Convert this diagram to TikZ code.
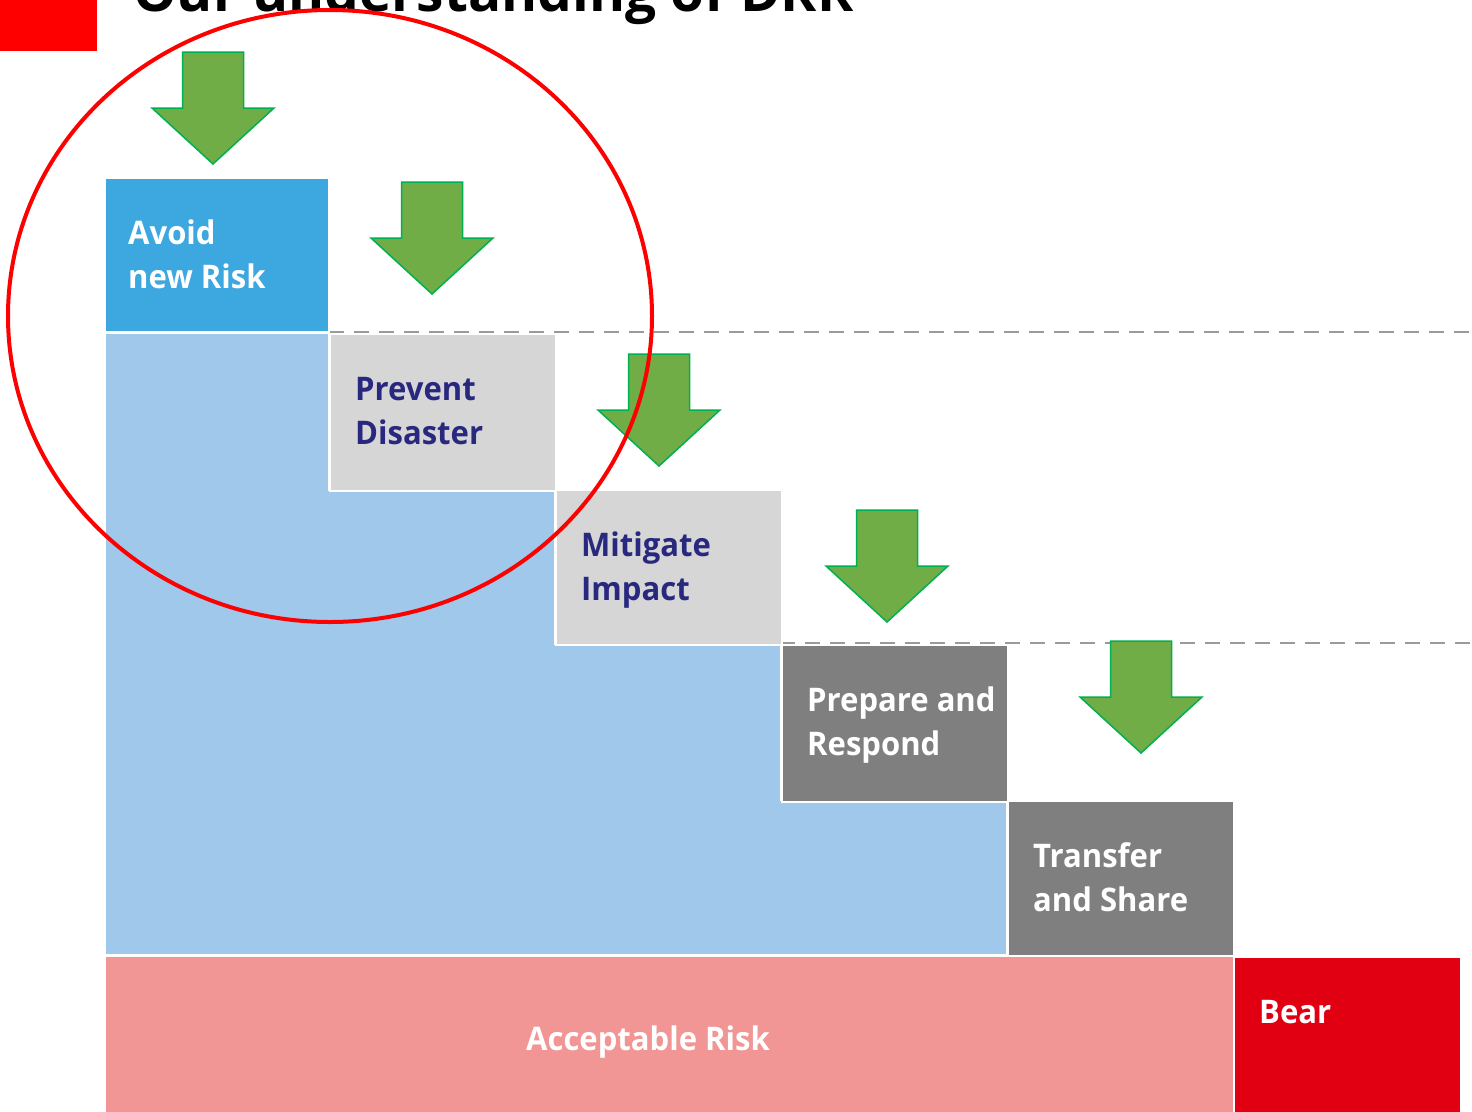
\documentclass[tikz,border=0pt]{standalone}
\usepackage{fontspec}
\setmainfont{Open Sans}
\definecolor{boxblue}{HTML}{3DA7DF}
\definecolor{areablue}{HTML}{9FC8EA}
\definecolor{lgray}{HTML}{D6D6D6}
\definecolor{dgray}{HTML}{7F7F7F}
\definecolor{pinkrisk}{HTML}{F19595}
\definecolor{bearred}{HTML}{E10012}
\definecolor{navytext}{HTML}{28287F}
\definecolor{arrowgreen}{HTML}{70AD47}
\definecolor{arrowedge}{HTML}{00B050}
\definecolor{dashgray}{HTML}{9A9A9A}
\tikzset{
  boxshape/.style={draw=white, line width=1.5pt},
  lbl/.style={anchor=base west, inner sep=0pt, xscale=0.955, transform shape, font=\bfseries\fontsize{32.5}{40}\selectfont},
  lblw/.style={lbl, text=white},
  lbln/.style={lbl, text=navytext},
  dashline/.style={draw=dashgray, line width=1.6pt, dash pattern=on 15pt off 10pt},
  dnarr/.pic={
    \filldraw[fill=arrowgreen, draw=arrowedge, line width=1.5pt]
      (-30.5,0) -- (30.5,0) -- (30.5,56) -- (61,56) -- (0,112) -- (-61,56) -- (-30.5,56) -- cycle;
  }
}
\begin{document}
\begin{tikzpicture}[x=1pt, y=-1pt]
\useasboundingbox (0,0) rectangle (1472,1111);
\clip (0,0) rectangle (1472,1111);
\fill[white] (0,0) rectangle (1472,1111);
% title and red mark
\fill[red] (0,0) rectangle (97,51);
\node[anchor=base west, inner sep=0pt, font=\bfseries\fontsize{55}{60}\selectfont] (title) at (133,11) {Our understanding of DRR};
% dashed level lines
\coordinate (d1a) at (329,332);
\coordinate (d1b) at (1472,332);
\coordinate (d2a) at (780,643);
\coordinate (d2b) at (1472,643);
\draw[dashline] (d1a) -- (d1b);
\draw[dashline] (d2a) -- (d2b);
% light blue area
\filldraw[fill=areablue, boxshape] (105,333) -- (329,333) -- (329,490) -- (555,490) -- (555,644) -- (781,644) -- (781,800) -- (1007,800) -- (1007,955) -- (105,955) -- cycle;
% boxes
\node[boxshape, fill=boxblue, minimum width=224pt, minimum height=154pt, anchor=north west, inner sep=0pt] (avoid) at (104,177) {};
\node[boxshape, fill=lgray, minimum width=226pt, minimum height=157pt, anchor=north west, inner sep=0pt] (prevent) at (329,333) {};
\node[boxshape, fill=lgray, minimum width=226pt, minimum height=155pt, anchor=north west, inner sep=0pt] (mitigate) at (555,489) {};
\node[boxshape, fill=dgray, minimum width=226pt, minimum height=157pt, anchor=north west, inner sep=0pt] (prepare) at (781,644) {};
\node[boxshape, fill=dgray, minimum width=226pt, minimum height=156pt, anchor=north west, inner sep=0pt] (transfer) at (1007,800) {};
\node[boxshape, fill=pinkrisk, minimum width=1129pt, minimum height=160pt, anchor=north west, inner sep=0pt] (accept) at (104,955) {};
\node[boxshape, fill=bearred, minimum width=227pt, minimum height=160pt, anchor=north west, inner sep=0pt] (bear) at (1233,956) {};
% labels
\node[lblw] (avoidA) at (128,244) {Avoid};
\node[lblw] (avoidB) at (128,288) {new Risk};
\node[lbln] (prevA) at (355,400) {Prevent};
\node[lbln] (prevB) at (355,444) {Disaster};
\node[lbln] (mitA) at (581,556) {Mitigate};
\node[lbln] (mitB) at (581,600) {Impact};
\node[lblw] (prepA) at (807,711) {Prepare and};
\node[lblw] (prepB) at (807,755) {Respond};
\node[lblw] (transA) at (1033,867) {Transfer};
\node[lblw] (transB) at (1033,911) {and Share};
\node[lblw] (bearA) at (1259,1023) {Bear};
\node[lblw, anchor=base] (acceptA) at (648,1050) {Acceptable Risk};
% green arrows
\pic at (213,52) {dnarr};
\pic at (432,182) {dnarr};
\pic at (659,354) {dnarr};
\pic at (887,510) {dnarr};
\pic at (1141,641) {dnarr};
% red circle
\draw[red, line width=4pt] (330,316) ellipse [x radius=322pt, y radius=306pt];
\end{tikzpicture}
\end{document}
